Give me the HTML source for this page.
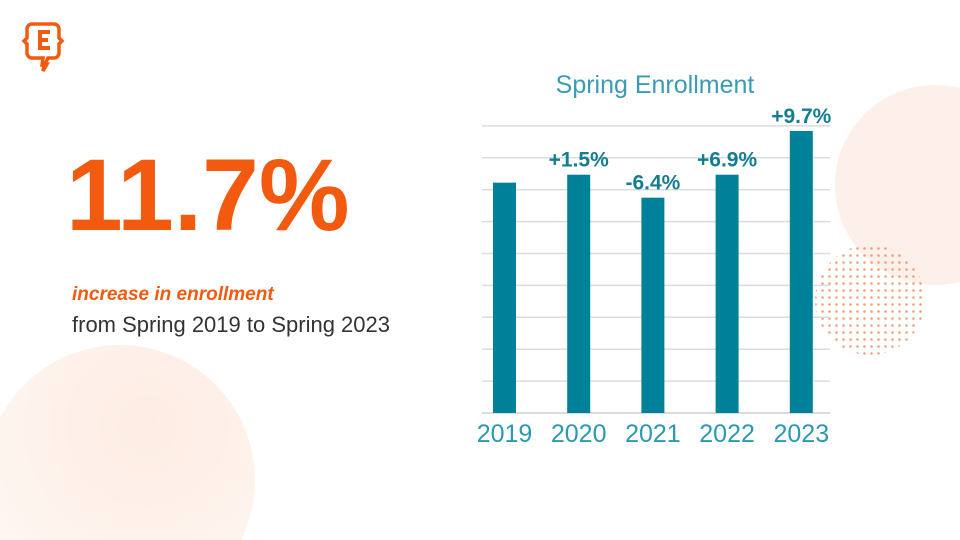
<!DOCTYPE html>
<html style="margin:0;width:960px;height:540px;overflow:hidden"><head><meta charset="utf-8"><style>
body{margin:0;width:960px;height:540px;overflow:hidden;background:#fff;font-family:"Liberation Sans",sans-serif;position:relative}
.abs{position:absolute}
svg{display:block}
</style></head><body>
<svg class="abs" style="left:0;top:0" width="960" height="540">
<defs>
<radialGradient id="g1" cx="0.6" cy="0.3" r="0.8"><stop offset="0" stop-color="#fdece3"/><stop offset="1" stop-color="#fff8f4"/></radialGradient>
<pattern id="dots" width="7" height="7" patternUnits="userSpaceOnUse"><circle cx="3.5" cy="3.5" r="1.3" fill="#f2a07a"/></pattern>
</defs>
<circle cx="120" cy="480" r="135" fill="url(#g1)"/>
<circle cx="935" cy="185" r="100" fill="#fdf0ea"/>
<circle cx="870" cy="300" r="55" fill="url(#dots)"/>
<g fill="none" stroke="#f25a0f" stroke-width="3.5">
<path d="M32 24 h22 a5 5 0 0 1 5 5 v9 l3 3 l-3 3 v9 a5 5 0 0 1 -5 5 h-6 l-3 6 l2 0 l-4 7 l1 -6 l-2 0 l1 -7 h-11 a5 5 0 0 1 -5 -5 v-9 l-3 -3 l3 -3 v-9 a5 5 0 0 1 5 -5z"/>
<path d="M50 32 h-10 v16 h10 M40 40 h8" stroke-width="4"/>
</g>
</svg>
<div class="abs" style="left:66px;top:140px;font-size:102px;line-height:110px;font-weight:bold;color:#f25a0f;letter-spacing:0px">11.7%</div>
<div class="abs" style="left:72px;top:284px;font-size:19px;line-height:22px;font-weight:bold;font-style:italic;color:#f25a0f">increase in enrollment</div>
<div class="abs" style="left:72px;top:312px;font-size:22px;line-height:26px;color:#333">from Spring 2019 to Spring 2023</div>
<svg id="chart" class="abs" style="left:0;top:0" width="960" height="540"></svg>
<script>
const categories=["2019","2020","2021","2022","2023"];
const values=[7.22,7.47,6.75,7.47,8.84];
const changeLabels=["","+1.5%","-6.4%","+6.9%","+9.7%"];
const gridTicks=[1,2,3,4,5,6,7,8,9];
const svg=document.getElementById('chart');
const NS="http://www.w3.org/2000/svg";
const x0=482,x1=830,yBase=413,unit=31.9;
const y=v=>yBase-v*unit;
const xc=i=>504.5+i*74.2;
function mk(t,a){const e=document.createElementNS(NS,t);for(const k in a)e.setAttribute(k,a[k]);svg.appendChild(e);return e;}
const title=mk('text',{x:655,y:93,'text-anchor':'middle','font-size':25,fill:'#3a9cb1','font-family':'Liberation Sans, sans-serif'});
title.textContent="Spring Enrollment";


gridTicks.forEach(t=>{const l=mk('line',{x1:x0,x2:x1,y1:y(t),y2:y(t),stroke:'#dcdcdc','stroke-width':1.5});

});
const base=mk('line',{x1:x0,x2:x1,y1:yBase,y2:yBase,stroke:'#cfcfcf','stroke-width':1.5});


values.forEach((v,i)=>{
const r=mk('rect',{x:xc(i)-11.5,y:y(v),width:23,height:yBase-y(v),fill:'#00819a'});


const t=mk('text',{x:xc(i),y:442,'text-anchor':'middle','font-size':25,fill:'#2a9ab0','font-family':'Liberation Sans, sans-serif'});
t.textContent=categories[i];


if(changeLabels[i]){const c=mk('text',{x:xc(i),y:y(v)-8,'text-anchor':'middle','font-size':21,'font-weight':'bold',fill:'#137d92','font-family':'Liberation Sans, sans-serif'});
c.textContent=changeLabels[i];

}
});
</script>
</body></html>
